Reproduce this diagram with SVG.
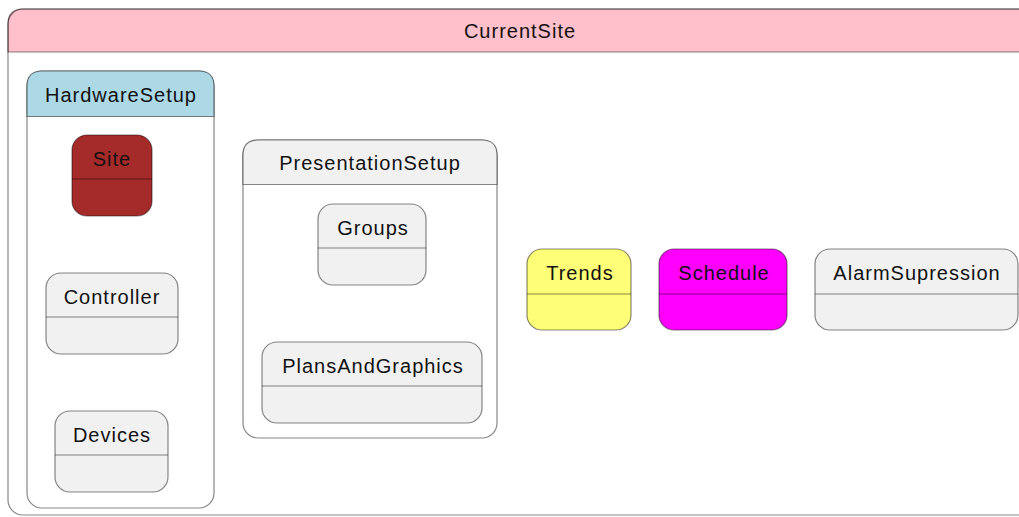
<svg xmlns="http://www.w3.org/2000/svg" width="1019" height="517" viewBox="0 0 1019 517">
<style>
.b{stroke:#000;stroke-opacity:0.47;stroke-width:1.2}
.d{stroke:#000;stroke-opacity:0.47;stroke-width:1.2;fill:none}
.t{font-family:"Liberation Sans",Arial,sans-serif;font-size:20px;letter-spacing:1px;fill:#111;text-anchor:middle}
.g{fill:#F1F1F1}
</style>
<rect width="1019" height="517" fill="#fff"/>
<g id="CurrentSite">
<path class="b" fill="#FFC0CB" d="M8,52 V24 Q8,9 23,9 H1040 V52 Z"/>
<rect class="b" fill="none" x="8" y="9" width="1040" height="506" rx="15"/>
<text class="t" x="520" y="38">CurrentSite</text>
</g>
<g id="HardwareSetup">
<rect class="b" fill="#fff" x="27" y="71" width="187" height="437" rx="15"/>
<path class="b" fill="#ADD8E6" d="M27,116.5 V86 Q27,71 42,71 H199 Q214,71 214,86 V116.5 Z"/>
<text class="t" x="121" y="102">HardwareSetup</text>
</g>
<g id="Site">
<rect class="b" fill="#A52A2A" x="72" y="135" width="80" height="81" rx="15"/>
<line class="d" x1="72" y1="179" x2="152" y2="179"/>
<text class="t" x="112" y="166">Site</text>
</g>
<g id="Controller">
<rect class="b g" x="46" y="273" width="132" height="81" rx="15"/>
<line class="d" x1="46" y1="317" x2="178" y2="317"/>
<text class="t" x="112" y="304">Controller</text>
</g>
<g id="Devices">
<rect class="b g" x="55" y="411" width="113" height="81" rx="15"/>
<line class="d" x1="55" y1="455" x2="168" y2="455"/>
<text class="t" x="112" y="442">Devices</text>
</g>
<g id="PresentationSetup">
<rect class="b" fill="#fff" x="243" y="140" width="254" height="298" rx="15"/>
<path class="b g" d="M243,184.5 V155 Q243,140 258,140 H482 Q497,140 497,155 V184.5 Z"/>
<text class="t" x="370" y="170">PresentationSetup</text>
</g>
<g id="Groups">
<rect class="b g" x="318" y="204" width="108" height="81" rx="15"/>
<line class="d" x1="318" y1="248" x2="426" y2="248"/>
<text class="t" x="373" y="235">Groups</text>
</g>
<g id="PlansAndGraphics">
<rect class="b g" x="262" y="342" width="220" height="81" rx="15"/>
<line class="d" x1="262" y1="386" x2="482" y2="386"/>
<text class="t" x="373" y="373">PlansAndGraphics</text>
</g>
<g id="Trends">
<rect class="b" fill="#FFFF77" x="527" y="249" width="104" height="81" rx="15"/>
<line class="d" x1="527" y1="294" x2="631" y2="294"/>
<text class="t" x="580" y="280">Trends</text>
</g>
<g id="Schedule">
<rect class="b" fill="#FF00FF" x="659" y="249" width="128" height="81" rx="15"/>
<line class="d" x1="659" y1="294" x2="787" y2="294"/>
<text class="t" x="724" y="280">Schedule</text>
</g>
<g id="AlarmSupression">
<rect class="b g" x="815" y="249" width="203" height="81" rx="15"/>
<line class="d" x1="815" y1="294" x2="1018" y2="294"/>
<text class="t" x="917" y="280">AlarmSupression</text>
</g>
<g id="connectors"></g>
</svg>
